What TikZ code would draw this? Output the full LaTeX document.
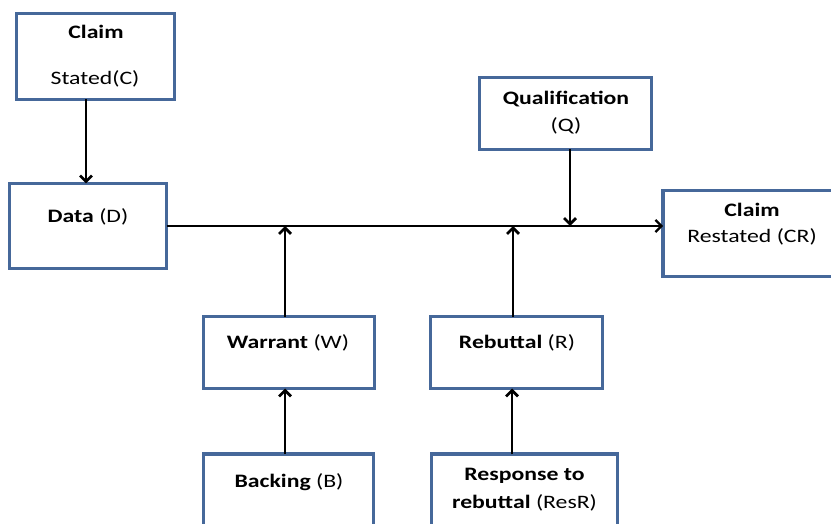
\documentclass[tikz,border=0pt]{standalone}
\usepackage{fontspec}
\setmainfont{Carlito}[FakeStretch=1.25]
\usetikzlibrary{arrows.meta}
\definecolor{boxblue}{HTML}{46689A}
\begin{document}
\begin{tikzpicture}[x=1pt,y=-1pt,
  box/.style={draw=boxblue,line width=3.3pt,fill=white,inner sep=0pt,outer sep=0pt},
  txt/.style={anchor=base,inner sep=0pt,font=\fontsize{19}{22}\selectfont},
  arr/.style={line width=2.7pt,-{Straight Barb[length=6pt,width=12pt]}},
  mainline/.style={line width=2.2pt,-{Straight Barb[length=6pt,width=12pt]}}]
\useasboundingbox (0,0) rectangle (831,524);
\clip (0,0) rectangle (831,524);
% boxes
\node[box,minimum width=158pt,minimum height=86pt] (claimS) at (95.5,56.5) {};
\node[box,minimum width=157pt,minimum height=85pt] (data) at (88,226) {};
\node[box,minimum width=172pt,minimum height=72pt] (qual) at (565.5,113.5) {};
\node[box,minimum width=178pt,minimum height=86pt] (claimR) at (752,233.5) {};
\node[box,minimum width=171pt,minimum height=72pt] (warrant) at (289,352.5) {};
\node[box,minimum width=172pt,minimum height=72pt] (rebuttal) at (516.5,352.5) {};
\node[box,minimum width=170pt,minimum height=80pt] (backing) at (288.5,494) {};
\node[box,minimum width=186pt,minimum height=80pt] (response) at (524.5,494) {};
% texts
\node[txt] (tClaimS) at (96,39) {\textbf{Claim}};
\node[txt] (tStated) at (95,85) {Stated(C)};
\node[txt] (tData) at (88,223) {\textbf{Data} (D)};
\node[txt] (tQual) at (566,105) {\textbf{Qualification}};
\node[txt] (tQ) at (566,132) {(Q)};
\node[txt] (tClaimR) at (752,217) {\textbf{Claim}};
\node[txt] (tRestated) at (752,243) {Restated (CR)};
\node[txt] (tWarrant) at (288,348) {\textbf{Warrant} (W)};
\node[txt] (tRebuttal) at (517,348) {\textbf{Rebuttal} (R)};
\node[txt] (tBacking) at (289,487) {\textbf{Backing} (B)};
\node[txt] (tResp1) at (524.5,480) {\textbf{Response to}};
\node[txt] (tResp2) at (524.5,508) {\textbf{rebuttal} (ResR)};
% connectors
\draw[arr] ([xshift=-9.5pt]claimS.south) -- ([xshift=-2pt]data.north);
\draw[mainline] (data.east) -- (data.east -| claimR.west);
\draw[arr] ([xshift=4.5pt]qual.south) -- ([xshift=4.5pt]qual.south |- data.east);
\draw[arr] ([xshift=-4pt]warrant.north) -- ([xshift=-4pt]warrant.north |- data.east);
\draw[arr] ([xshift=-3.5pt]rebuttal.north) -- ([xshift=-3.5pt]rebuttal.north |- data.east);
\draw[arr] ([xshift=-3.5pt]backing.north) -- ([xshift=-4pt]warrant.south);
\draw[arr] ([xshift=-12.5pt]response.north) -- ([xshift=-4.5pt]rebuttal.south);
\end{tikzpicture}
\end{document}
